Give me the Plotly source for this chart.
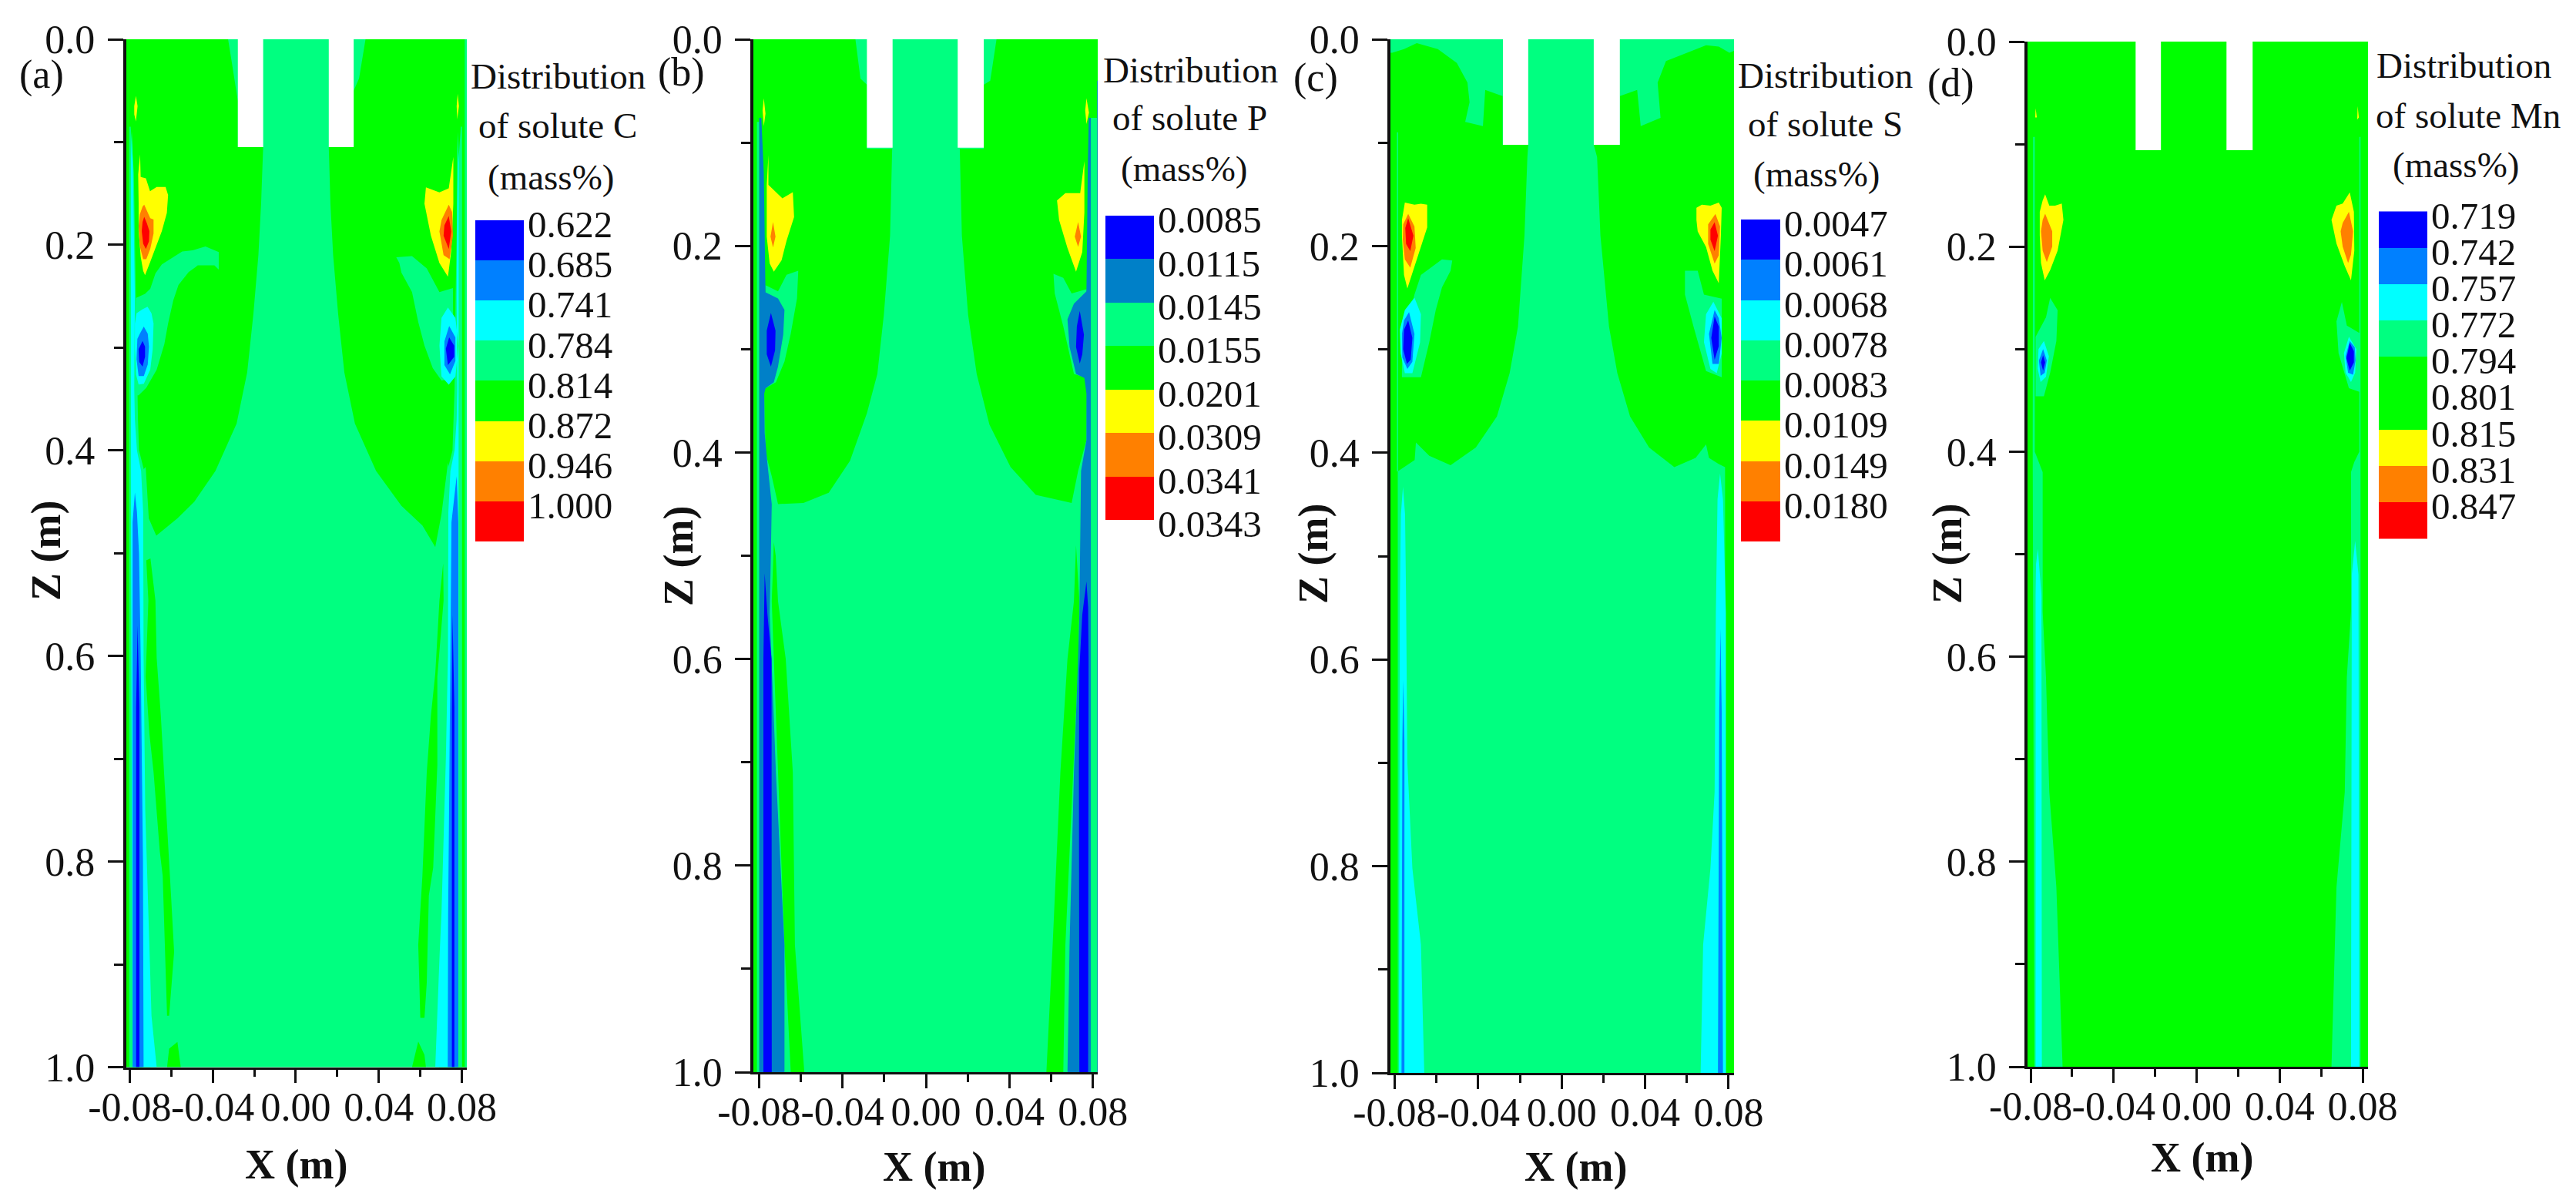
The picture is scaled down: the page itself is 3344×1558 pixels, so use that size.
import plotly.graph_objects as go

W, H = 3344, 1558
FONT = "Liberation Serif"

# ---------- axis ticks ----------
X_TICKS = [-0.08, -0.04, 0.0, 0.04, 0.08]
X_TICK_TEXT = ["-0.08", "-0.04", "0.00", "0.04", "0.08"]
X_MINOR = [-0.06, -0.02, 0.02, 0.06]
Z_TICKS = [0.0, 0.2, 0.4, 0.6, 0.8, 1.0]
Z_TICK_TEXT = ["0.0", "0.2", "0.4", "0.6", "0.8", "1.0"]
Z_MINOR = [0.1, 0.3, 0.5, 0.7, 0.9]

# ---------- legend levels ----------
A_LABELS = ["0.622", "0.685", "0.741", "0.784", "0.814", "0.872", "0.946", "1.000"]
B_LABELS = ["0.0085", "0.0115", "0.0145", "0.0155", "0.0201", "0.0309", "0.0341", "0.0343"]
C_LABELS = ["0.0047", "0.0061", "0.0068", "0.0078", "0.0083", "0.0109", "0.0149", "0.0180"]
D_LABELS = ["0.719", "0.742", "0.757", "0.772", "0.794", "0.801", "0.815", "0.831", "0.847"]

BASE = [[(-95, -5), (95, -5), (95, 1005), (-95, 1005)]]

# ---------- contour outlines, (x mm, z mm) ----------
# Panel (a), solute C
A_GREEN = [
    [(-90, 0), (-32.6, 0), (-31, 20), (-29.5, 40), (-27.9, 60), (-27.9, 105), (-15.7, 105), (-16.7, 160), (-18, 210),
     (-20.4, 267), (-23.4, 324), (-28.5, 374), (-38.7, 420), (-48.9, 450), (-57, 466), (-67.2, 483), (-70.8, 466),
     (-72.3, 416), (-74, 420), (-74, 1000), (-90, 1000)],
    [(90, 0), (33.6, 0), (30.5, 38), (27.9, 50), (27.9, 105), (15.9, 105), (16.7, 160), (18, 210), (20.4, 267),
     (23.4, 324), (28.5, 374), (38.7, 420), (50.9, 454), (61, 473), (67.2, 494), (70.2, 462), (73.3, 412), (74, 420),
     (74, 1000), (90, 1000)],
]
A_TEAL = [
    [(-80.2, 85), (-79.5, 85), (-78, 130), (-77, 250), (-76.5, 340), (-76, 370), (-75.5, 400), (-73, 420), (-71, 470),
     (-70, 1000), (-80.2, 1000)],
    [(-76.9, 251.5), (-72.6, 247.7), (-70.1, 242.7), (-67.6, 227.8), (-64.5, 219), (-59.6, 212.8), (-54.7, 206.5),
     (-49.7, 205.3), (-43.5, 201.5), (-37.1, 207), (-37.1, 224), (-39.2, 220), (-47.2, 220), (-51.6, 226.5), (-56.5, 239),
     (-59, 254), (-61.5, 276.5), (-63.3, 296.5), (-67, 321.4), (-72, 339), (-75.7, 346.4), (-76.9, 346.4)],
    [(79.5, 85), (80.1, 85), (80.1, 1000), (69, 1000), (70, 470), (73, 420), (75.5, 400), (76.5, 340), (77, 250), (78, 130)],
    [(48.4, 212), (56, 211), (63.1, 223), (69.2, 246), (75.7, 242), (76, 330), (70.2, 332), (66, 320), (62, 298), (59, 275),
     (56, 246), (50.9, 227), (49.9, 217.6)],
    [(81.4, 0), (83, 0), (83, 1000), (81.4, 1000)],
]
A_LENS = [
    [(-72, 507), (-71, 546), (-72.3, 620), (-70.5, 676), (-68.5, 713), (-65.5, 790), (-64.1, 814), (-63, 881), (-62, 950),
     (-61, 950), (-58.6, 888), (-60, 836), (-63, 732), (-65, 658), (-67, 602), (-67.6, 546), (-70, 505)],
    [(-62, 1000), (-61, 982), (-57, 975.5), (-55.4, 1000)],
    [(71.2, 546), (68.2, 620), (68.2, 706), (66.2, 806), (64.1, 833), (63.1, 918), (62, 952), (60, 952), (59, 881), (61, 814),
     (63.1, 713), (65.1, 658), (67.2, 617), (69.2, 546), (71, 510)],
    [(56, 1000), (59, 975), (62, 988), (62.7, 1000)],
]
A_YELLOW = [
    [(-75, 112), (-74.7, 134), (-72.2, 135.3), (-70.2, 147.8), (-67, 143.6), (-62.7, 143.6), (-61.5, 151.6), (-62.1, 169),
     (-64.5, 186.5), (-67.6, 204), (-70.1, 216.5), (-72.6, 229.5), (-73.5, 225.3), (-74.7, 211.5), (-75.7, 186.5),
     (-75.7, 159), (-75.9, 131.6)],
    [(-77.8, 65), (-77, 55), (-76.2, 65), (-77, 80), (-77.8, 73)],
    [(75.9, 114.5), (73.7, 145), (69.2, 149), (62.7, 144), (62, 160), (65.1, 191), (69.2, 217.6), (73.3, 231), (74.9, 206),
     (75.9, 160)],
    [(77.5, 65), (78, 53), (78.6, 65), (77.8, 78)],
]
A_ORANGE = [
    [(-73, 161), (-71.6, 167.8), (-70.1, 174), (-68.5, 175.3), (-68.5, 189), (-70.1, 204), (-72, 214), (-73.5, 214),
     (-75.1, 201.5), (-75.7, 181.6), (-75.1, 170.3), (-73.8, 162.8)],
    [(73.7, 161), (75.3, 168), (75.7, 191), (74.1, 214), (71.2, 210), (69.2, 187), (70.2, 176)],
]
A_RED = [
    [(-73, 172.8), (-71.7, 179), (-70.5, 186.5), (-70.7, 196.5), (-72.2, 204), (-73.5, 199), (-74.2, 186.5), (-73.8, 177.8)],
    [(73.7, 172), (74.9, 187), (73.7, 204), (71.2, 191), (71.6, 181)],
]
A_CYAN = [
    [(-73.8, 262.7), (-71.4, 260.2), (-69.5, 266.5), (-68.5, 276.5), (-68.9, 301.4), (-70.1, 321.4), (-73.2, 335.2),
     (-75.7, 335.9), (-76.9, 326.4), (-77.5, 301.4), (-77.5, 276.5), (-76.7, 266.5)],
    [(-79.4, 120), (-79, 90), (-78.5, 120), (-77.5, 250), (-77.8, 340), (-77.5, 370), (-76.5, 400), (-74.5, 420), (-73.5, 460),
     (-73.3, 600), (-72.5, 750), (-70.5, 880), (-69.5, 950), (-67, 1000), (-78.6, 1000), (-79.4, 460)],
    [(73.3, 261), (70.2, 271), (69.2, 298), (70.2, 328), (73.7, 336), (76.9, 328), (78.4, 298), (76.9, 271)],
    [(78, 90), (78.5, 120), (78.3, 1000), (67.2, 1000), (69.3, 890), (70.2, 850), (72.3, 700), (73.3, 600), (73.5, 460),
     (74.5, 420), (76.5, 400), (77.5, 370), (77.8, 340), (77.5, 250)],
]
A_AZURE = [
    [(-73.2, 279.5), (-71.3, 286.5), (-70.7, 299), (-71.3, 316.4), (-73.2, 327.7), (-75.7, 327.7), (-76.7, 311.4), (-76.3, 291.5),
     (-75.1, 286.5)],
    [(-77.5, 441), (-76.5, 460), (-75.5, 500), (-74.7, 600), (-73.6, 800), (-73.3, 1000), (-78.6, 1000), (-78.6, 470)],
    [(73.9, 279), (71.6, 294), (71.6, 317), (74.3, 326), (76.9, 313), (76.9, 290)],
    [(77.5, 425), (75, 470), (74.5, 600), (73.4, 850), (73.2, 1000), (78.3, 1000), (78.3, 470)],
]
A_BLUE = [
    [(-73.8, 293.5), (-72.6, 299), (-72.6, 309), (-73.8, 318.4), (-75.4, 314), (-75.7, 301.4)],
    [(-76.2, 570), (-75.3, 650), (-75.3, 1000), (-76.9, 1000), (-76.9, 650)],
    [(73.9, 290), (72.3, 301), (73.3, 317), (76.3, 309), (76.3, 298)],
    [(75.5, 560), (75.2, 650), (75.2, 1000), (76.4, 1000), (76.4, 650)],
]
A_NOZZLE = [
    [(-27.9, -5), (-15.7, -5), (-15.7, 105), (-27.9, 105)],
    [(15.9, -5), (27.9, -5), (27.9, 105), (15.9, 105)],
]

# Panel (b), solute P
B_GREEN = [
    [(-90, 0), (-33.8, 0), (-31.4, 38), (-28.3, 44), (-28.3, 106), (-16.2, 106), (-17.2, 190), (-20.2, 267), (-23.3, 324),
     (-28.3, 362), (-36.4, 408), (-46.6, 439), (-58.7, 449), (-70.9, 450), (-73.9, 423), (-76.9, 400), (-77.3, 343),
     (-77.5, 450), (-77.5, 1000), (-90, 1000)],
    [(90, 0), (33.8, 0), (30.8, 40), (27.7, 44), (27.7, 106), (15.2, 106), (16.2, 106), (17.2, 190), (20.2, 267), (24.3, 324),
     (30.4, 373), (40.5, 414), (52.6, 441), (69.8, 449), (72.9, 418), (76.9, 388), (76.9, 338), (77.5, 450), (77.5, 1000),
     (90, 1000)],
]
B_TEAL = [
    [(-81, 80), (-79.9, 80), (-79.9, 1000), (-81, 1000)],
    [(-76.9, 238), (-70.9, 244), (-66.8, 228), (-61.2, 224), (-61.8, 251), (-64.8, 285), (-67.8, 312), (-71.9, 332), (-76.9, 338)],
    [(61.1, 227), (65.8, 231), (69.8, 246), (76.9, 242), (76.9, 328), (70.9, 324), (65.8, 278), (61.7, 246)],
    [(79, 76), (82, 76), (82, 1000), (79, 1000)],
]
B_LENS = [
    [(-72.9, 487), (-73.9, 544), (-72.9, 600), (-70.9, 710), (-67.8, 877), (-64.8, 1000), (-58.3, 1000), (-62.8, 877), (-63.8, 710),
     (-67.2, 600), (-70.9, 544), (-72, 500)],
    [(71.9, 490), (73.5, 544), (73, 600), (70.5, 710), (66.8, 877), (65.8, 1000), (57.7, 1000), (60.7, 877), (64.4, 710), (67.8, 600),
     (70.9, 544)],
]
B_YELLOW = [
    [(-75.5, 112), (-75.5, 141), (-68.8, 154), (-63.8, 148), (-63.2, 172), (-66.8, 195), (-69.2, 214), (-72.9, 225), (-74.9, 217),
     (-76.3, 191), (-76.3, 141)],
    [(-77.7, 57), (-76.9, 72), (-77.7, 84), (-78.3, 69)],
    [(75.9, 118), (73.9, 149), (66.8, 149), (62.8, 156), (63.8, 175), (67.8, 202), (71.9, 225), (74.9, 206), (75.9, 168)],
    [(76.9, 57), (78.1, 71), (76.9, 82), (76.3, 69)],
]
B_ORANGE = [
    [(-73.3, 177), (-72.1, 191), (-73.3, 201.5), (-74.5, 191)],
    [(72.9, 177), (74.3, 191), (72.9, 201), (71.3, 191)],
]
B_RED = []
B_CYAN = []
B_AZURE = [
    [(-79.9, 76), (-78.9, 76), (-77.7, 130), (-76.9, 229), (-76.9, 245), (-70.9, 251), (-67.8, 262), (-68.4, 286), (-70.9, 317),
     (-72.9, 332), (-76.9, 338), (-77.5, 343), (-77.3, 381), (-75.9, 412), (-73.9, 450), (-74.3, 496), (-74.9, 557), (-74, 600),
     (-71.9, 710), (-67.8, 877), (-67.8, 1000), (-79.9, 1000)],
    [(78, 76), (77.5, 130), (76.9, 244), (70.9, 256), (67.8, 271), (68.8, 298), (71.9, 324), (75.9, 328), (76.9, 343), (76.9, 388),
     (74.3, 418), (73.9, 496), (73.5, 557), (72.9, 600), (70.9, 710), (68.8, 877), (67.8, 1000), (79, 1000), (79, 76)],
    [(82, 40), (83, 40), (83, 1000), (82, 1000)],
]
B_BLUE = [
    [(-74.3, 265), (-72.1, 282), (-72.3, 301), (-74.3, 317), (-76.3, 305), (-76.3, 282)],
    [(-77.3, 517), (-76, 556), (-74, 600), (-73.9, 1000), (-77.9, 1000), (-77.9, 600)],
    [(73.7, 263), (75.7, 286), (74.9, 305), (73.7, 314), (71.9, 298), (72.3, 278)],
    [(76.9, 525), (74.9, 557), (73.5, 610), (73.3, 710), (73.5, 1000), (77.7, 1000), (77.9, 600), (77.7, 550)],
]
B_NOZZLE = [
    [(-28.3, -5), (-16, -5), (-16, 105), (-28.3, 105)],
    [(15.2, -5), (27.7, -5), (27.7, 105), (15.2, 105)],
]

# Panel (c), solute S
C_GREEN = [
    [(-90, 13), (-81.2, 13), (-75.5, 9.5), (-69.4, 3.8), (-59.3, 9.5), (-50.2, 23), (-45.1, 42), (-44.1, 61), (-46.2, 80), (-37.7, 84),
     (-36.6, 49), (-28.3, 55), (-28.3, 102), (-16, 102), (-16.4, 114), (-17.8, 190), (-20.9, 278), (-24.9, 323), (-31, 365),
     (-41.1, 395), (-53.2, 412), (-63.4, 403), (-69.8, 390), (-70.4, 407), (-78.5, 418), (-78.5, 1000), (-90, 1000)],
    [(90, 5), (80.4, 13), (75.3, 7), (69.2, 5.7), (60.1, 13), (50, 21), (46, 42), (47.4, 76), (37.9, 84), (36.2, 49), (27.9, 55), (27.9, 102),
     (15.4, 102), (17, 114), (18.6, 190), (22.7, 278), (26.7, 323), (32.8, 365), (41.9, 395), (54, 414), (64.2, 405), (69.2, 392),
     (70.6, 405), (75.3, 411), (78.3, 414), (78.7, 1000), (90, 1000)],
]
C_TEAL = [
    [(-78.9, 90), (-78.3, 90), (-78.3, 418), (-78.9, 418)],
    [(-57.3, 213), (-52.4, 214), (-53.2, 224), (-57.3, 240), (-60.3, 262), (-63.4, 293), (-67.4, 327), (-76.5, 327), (-76.5, 297),
     (-70.5, 247), (-67.4, 228)],
    [(59.1, 224), (65.2, 224), (68.2, 247), (76.7, 251), (76.7, 327), (69.2, 321), (63.2, 278), (59.1, 247)],
]
C_LENS = []
C_YELLOW = [
    [(-75.1, 158), (-70.5, 160), (-67.4, 159), (-64.4, 160), (-64.4, 182), (-67.4, 201), (-70.5, 220), (-73.9, 241), (-75.5, 228),
     (-76.5, 190), (-76.5, 175)],
    [(64.6, 163), (67.2, 160), (71.3, 161), (75.3, 158), (76.7, 163), (76.3, 190), (75.3, 236), (72.3, 224), (69.2, 201), (65.2, 186),
     (64.6, 175)],
]
C_ORANGE = [
    [(-73.5, 169), (-70.5, 181), (-69.9, 202), (-72.5, 221), (-75.1, 213), (-76.1, 194), (-75.9, 179)],
    [(73.7, 169), (75.9, 181), (75.3, 209), (73.3, 217), (70.2, 198), (70.2, 179)],
]
C_RED = [
    [(-73.5, 173), (-71, 190), (-72.5, 205), (-74.5, 198), (-74.9, 182.5)],
    [(73.3, 177), (74.9, 190), (73.3, 205), (71.3, 194), (71.3, 184)],
]
C_CYAN = [
    [(-70.5, 250), (-67.4, 266), (-67.8, 293), (-71.5, 323), (-75.1, 323), (-77.1, 304), (-77.5, 281), (-75.1, 262)],
    [(-76, 433), (-75, 460), (-74.5, 543), (-73.9, 700), (-71.5, 802), (-67.4, 876), (-65.8, 1000), (-77.9, 1000), (-77.5, 543), (-77, 460)],
    [(72.7, 254), (69.2, 266), (68.2, 293), (71.3, 319), (74.3, 323), (76.7, 304), (76.7, 270)],
    [(75.9, 420), (74.7, 445), (73.9, 555), (73.3, 728), (71.3, 802), (67.8, 876), (66.6, 1000), (78.7, 1000), (78.7, 555), (77.3, 445)],
]
C_AZURE = [
    [(-73.1, 264), (-70.5, 285), (-71.5, 312), (-73.9, 319), (-76.3, 308), (-76.5, 285), (-75.5, 272)],
    [(-75.9, 620), (-75.3, 680), (-75.3, 1000), (-76.7, 1000), (-76.3, 680)],
    [(73.3, 262), (70.6, 285), (72.3, 314), (75.3, 314), (76.7, 289), (75.3, 270)],
    [(76.1, 570), (75.5, 650), (74.9, 1000), (77.3, 1000), (76.7, 650)],
]
C_BLUE = [
    [(-73.5, 272), (-71.5, 289), (-72.3, 310), (-74.1, 314), (-75.9, 300), (-75.5, 281)],
    [(73.3, 268), (71.7, 289), (73.3, 310), (75.3, 297), (75.3, 278)],
]
C_NOZZLE = [
    [(-28.1, -5), (-16, -5), (-16, 102), (-28.1, 102)],
    [(15.4, -5), (27.9, -5), (27.9, 102), (15.4, 102)],
]

# Panel (d), solute Mn
D_GREEN = [[(-90, -5), (90, -5), (90, 1005), (-90, 1005)]]
D_TEAL = [
    [(-78.8, 93), (-78, 93), (-78, 400), (-76, 410), (-74.2, 420), (-74.2, 556), (-72.6, 620), (-71, 732), (-67.6, 825), (-64.6, 1000),
     (-78.2, 1000), (-79, 400)],
    [(-70.6, 250), (-67, 262), (-67.6, 292), (-70.6, 323), (-73.6, 346), (-77.6, 346), (-77.6, 288), (-72.6, 269)],
    [(70, 254), (72.4, 277), (79, 285), (79, 342), (73.4, 338), (68.4, 304), (67.4, 273)],
    [(78.4, 93), (79, 93), (79, 1000), (65, 1000), (67.4, 825), (71.4, 732), (72.4, 620), (74.4, 556), (74.4, 420), (76, 410), (78.4, 400)],
]
D_LENS = []
D_YELLOW = [
    [(-73, 149), (-71, 160), (-68.2, 160), (-65, 158), (-64.2, 174), (-67, 204), (-70.6, 223), (-73.2, 233), (-75, 216), (-75.6, 189),
     (-75.6, 166), (-74.2, 155)],
    [(-77.6, 65), (-77, 74), (-77.8, 74)],
    [(73.8, 147), (75.8, 166), (76, 204), (74.4, 233), (71.4, 219), (67.4, 197), (65, 174), (67.4, 160), (70.4, 158)],
    [(77.6, 63), (78.2, 74), (77.4, 76)],
]
D_ORANGE = [
    [(-73, 168), (-69.6, 185), (-69.6, 200), (-72.2, 215), (-74.2, 204), (-75, 185), (-74.2, 174)],
    [(73.4, 166), (75.4, 185), (74.4, 208), (73, 216), (70.4, 200), (69.4, 185), (70.4, 177)],
]
D_RED = []
D_CYAN = [
    [(-73.6, 292), (-71.2, 307), (-72.6, 327), (-75.2, 332), (-76.6, 319), (-76.2, 300)],
    [(-76.5, 495), (-74.8, 540), (-74.6, 1000), (-77.6, 1000), (-77.6, 540), (-77.4, 510)],
    [(73.4, 288), (71, 304), (71.8, 323), (74.4, 332), (76.4, 323), (77, 300)],
    [(76.4, 487), (74.8, 520), (74.4, 1000), (78.4, 1000), (78, 520)],
]
D_AZURE = [
    [(-74, 300), (-72.2, 311), (-73.2, 323), (-75.2, 326), (-76, 311)],
    [(73.8, 292), (71.8, 307), (73, 323), (75.4, 325), (76.6, 311), (76.2, 298)],
]
D_BLUE = [
    [(-74, 306), (-73, 313), (-74, 321), (-75, 313)],
    [(73.8, 294), (72.2, 309), (73.8, 321), (75.8, 313), (75.8, 302)],
]
D_NOZZLE = [
    [(-29.4, -5), (-17.2, -5), (-17.2, 106), (-29.4, 106)],
    [(14.4, -5), (27, -5), (27, 106), (14.4, 106)],
]

# ---------- colours ----------
BLUE, AZURE, AZURE_B, CYAN, TEAL, GREEN = "#0000ff", "#0080ff", "#0080c8", "#00ffff", "#00ff80", "#00ff00"
YELLOW, ORANGE, RED = "#ffff00", "#ff8000", "#ff0000"

PANELS = [
    dict(tag="(a)", solute="of solute C", labels=A_LABELS,
         swatches=[BLUE, AZURE, CYAN, TEAL, GREEN, YELLOW, ORANGE, RED], azure=AZURE,
         layers=[A_GREEN, A_TEAL, A_LENS, A_YELLOW, A_ORANGE, A_RED, A_CYAN, A_AZURE, A_BLUE], nozzle=A_NOZZLE,
         box=(163.5, 606, 51, 1385.5), xrange=(-0.0818, 0.0824),
         leg=(617, 680, 286, 703), tag_xy=(54, 97), ztitle=(60, 715), xtitle=(384, 1512),
         title_xy=[(724, 99), (724, 163), (715, 230)]),
    dict(tag="(b)", solute="of solute P", labels=B_LABELS,
         swatches=[BLUE, AZURE_B, TEAL, GREEN, YELLOW, ORANGE, RED], azure=AZURE_B,
         layers=[B_GREEN, B_TEAL, B_LENS, B_YELLOW, B_ORANGE, B_RED, B_CYAN, B_AZURE, B_BLUE], nozzle=B_NOZZLE,
         box=(978, 1425, 51, 1392), xrange=(-0.0827, 0.0823),
         leg=(1435, 1498, 280, 675), tag_xy=(885, 94), ztitle=(881, 722), xtitle=(1212, 1515),
         title_xy=[(1545, 91), (1544, 153), (1537, 219)]),
    dict(tag="(c)", solute="of solute S", labels=C_LABELS,
         swatches=[BLUE, AZURE, CYAN, TEAL, GREEN, YELLOW, ORANGE, RED], azure=AZURE,
         layers=[C_GREEN, C_TEAL, C_LENS, C_YELLOW, C_ORANGE, C_RED, C_CYAN, C_AZURE, C_BLUE], nozzle=C_NOZZLE,
         box=(1805, 2251, 51, 1393), xrange=(-0.0820, 0.0826),
         leg=(2260, 2311, 285, 703), tag_xy=(1708, 101), ztitle=(1705, 719), xtitle=(2046, 1515),
         title_xy=[(2369, 98), (2369, 161), (2358, 226)]),
    dict(tag="(d)", solute="of solute Mn", labels=D_LABELS,
         swatches=[BLUE, AZURE, CYAN, TEAL, GREEN, GREEN, YELLOW, ORANGE, RED], azure=AZURE,
         layers=[D_GREEN, D_TEAL, D_LENS, D_YELLOW, D_ORANGE, D_RED, D_CYAN, D_AZURE, D_BLUE], nozzle=D_NOZZLE,
         box=(2632, 3074, 54, 1385), xrange=(-0.0815, 0.0826),
         leg=(3088, 3151, 274.5, 699), tag_xy=(2532, 108), ztitle=(2528, 719), xtitle=(2858, 1503),
         title_xy=[(3198, 85), (3204, 150), (3188, 214)]),
]


def flatten(polys):
    xs, zs = [], []
    for poly in polys:
        for x, z in poly + poly[:1]:
            xs.append(x / 1000)
            zs.append(z / 1000)
        xs.append(None)
        zs.append(None)
    return xs, zs


fig = go.Figure()
layout = dict(
    template="none",
    width=W, height=H, autosize=False, margin=dict(l=0, r=0, t=0, b=0, pad=0),
    paper_bgcolor="white", plot_bgcolor="white", showlegend=False,
    font=dict(family=FONT, color="#111111"), annotations=[],
)


def note(text, xy, size, bold=False, angle=0):
    layout["annotations"].append(dict(
        text=f"<b>{text}</b>" if bold else text, xref="paper", yref="paper",
        x=xy[0] / W, y=1 - xy[1] / H, xanchor="center", yanchor="middle", showarrow=False,
        textangle=angle, font=dict(family=FONT, size=size, color="#111111"),
    ))


for i, p in enumerate(PANELS):
    a_main, a_leg = 2 * i + 1, 2 * i + 2
    left, right, top, bottom = p["box"]
    band_colours = [GREEN, TEAL, GREEN, YELLOW, ORANGE, RED, CYAN, p["azure"], BLUE]
    for polys, colour in zip([BASE] + p["layers"] + [p["nozzle"]], [TEAL] + band_colours + ["#ffffff"]):
        if not polys:
            continue
        xs, zs = flatten(polys)
        fig.add_trace(go.Scatter(x=xs, y=zs, mode="lines", fill="toself", fillcolor=colour,
                                 line=dict(width=0, color=colour), hoverinfo="skip",
                                 xaxis=f"x{a_main}", yaxis=f"y{a_main}"))

    layout[f"xaxis{a_main}"] = dict(
        domain=[left / W, right / W], anchor=f"y{a_main}", range=list(p["xrange"]), automargin=False,
        tickmode="array", tickvals=X_TICKS, ticktext=X_TICK_TEXT, tickangle=0,
        ticks="outside", ticklen=18, tickwidth=2.5, tickcolor="#111111",
        tickfont=dict(family=FONT, size=52, color="#111111"), ticklabelstandoff=-14,
        showline=True, linecolor="#111111", linewidth=2.5, showgrid=False, zeroline=False,
        minor=dict(tickmode="array", tickvals=X_MINOR, ticks="outside", ticklen=10, tickwidth=2.5, tickcolor="#111111", showgrid=False),
    )
    layout[f"yaxis{a_main}"] = dict(
        domain=[1 - bottom / H, 1 - top / H], anchor=f"x{a_main}", range=[1, 0], automargin=False,
        tickmode="array", tickvals=Z_TICKS, ticktext=Z_TICK_TEXT,
        ticks="outside", ticklen=20, tickwidth=2.5, tickcolor="#111111",
        tickfont=dict(family=FONT, size=52, color="#111111"), ticklabelstandoff=6,
        showline=True, linecolor="#111111", linewidth=3.5, showgrid=False, zeroline=False,
        minor=dict(tickmode="array", tickvals=Z_MINOR, ticks="outside", ticklen=12, tickwidth=2.5, tickcolor="#111111", showgrid=False),
    )

    # stepped colour key
    n = len(p["swatches"])
    scale = []
    for k, colour in enumerate(p["swatches"]):
        scale += [[k / n, colour], [(k + 1) / n, colour]]
    fig.add_trace(go.Heatmap(
        z=[[k + 0.5] for k in range(n)], y=[k + 0.5 for k in range(n)], x=[0.5],
        colorscale=scale, zmin=0, zmax=n, showscale=False, hoverinfo="skip",
        xaxis=f"x{a_leg}", yaxis=f"y{a_leg}",
    ))
    l0, l1, t0, t1 = p["leg"]
    cell = (t1 - t0) / n
    pad = 0.35
    layout[f"xaxis{a_leg}"] = dict(domain=[l0 / W, l1 / W], anchor=f"y{a_leg}", range=[0, 1], visible=False, automargin=False)
    layout[f"yaxis{a_leg}"] = dict(
        domain=[1 - (t1 + pad * cell) / H, 1 - (t0 - pad * cell) / H], anchor=f"x{a_leg}", automargin=False,
        range=[n + pad, -pad], side="right", showline=False, showgrid=False, zeroline=False, ticks="",
        tickmode="array", tickvals=[k + 5 / cell for k in range(len(p["labels"]))], ticktext=p["labels"],
        tickfont=dict(family=FONT, size=49, color="#111111"), ticklabelstandoff=4,
    )

    note(p["tag"], p["tag_xy"], 52)
    note("Distribution", p["title_xy"][0], 47)
    note(p["solute"], p["title_xy"][1], 47)
    note("(mass%)", p["title_xy"][2], 47)
    note("Z (m)", p["ztitle"], 54, bold=True, angle=-90)
    note("X (m)", p["xtitle"], 54, bold=True)

fig.update_layout(**layout)
fig.write_html("out.html", config={"displayModeBar": False},
               post_script="document.body.style.margin='0';document.body.style.overflow='hidden';")
